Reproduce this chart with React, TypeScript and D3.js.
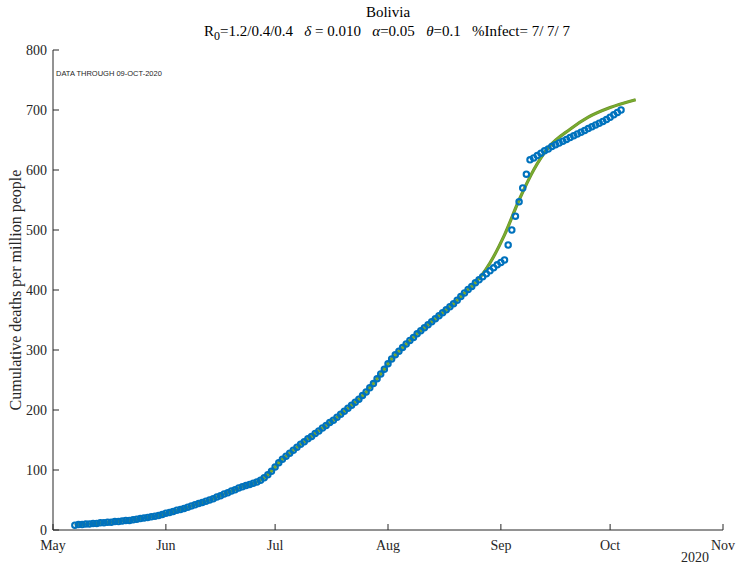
import * as d3 from 'd3'

const startDate = new Date(2020, 4, 7)
const deaths = [
  // May 7-31
  8, 9, 9, 10, 10, 11, 11, 12, 12, 13, 13, 14, 14, 15, 16, 16, 17, 18, 19, 20, 21, 22, 23, 24, 26,
  // Jun
  28, 29, 31, 33, 34, 36, 38, 40, 42, 44, 46, 48, 50, 52, 55, 57, 60, 62, 65, 67, 70, 72, 74, 76, 78, 80, 83, 87, 92,
  // Jul
  98, 105, 112, 118, 123, 128, 133, 138, 143, 147, 152, 156, 161, 165, 170, 174, 179, 183, 188, 193, 198, 203, 208, 213, 218, 224, 230, 237, 244, 252, 260,
  // Aug
  268, 277, 285, 292, 298, 304, 310, 316, 321, 327, 332, 337, 342, 347, 352, 357, 362, 367, 372, 377, 383, 389, 395, 401, 406, 412, 417, 422, 427, 432, 437,
  // Sep
  442, 446, 450, 475, 500, 523, 547, 570, 593, 617, 620, 624, 628, 632, 635, 639, 642, 645, 648, 651, 654, 657, 660, 663, 666, 669, 672, 675, 678, 681,
  // Oct 1-5
  684, 688, 692, 696, 700,
]

// model follows the data until 24 Aug, then its own path
const modelFitDays = 110
const modelTailDates = ['2020-08-29', '2020-09-02', '2020-09-06', '2020-09-10', '2020-09-14', '2020-09-20', '2020-09-25', '2020-10-01', '2020-10-08']
const modelTailValues = [445, 492, 550, 600, 637, 668, 688, 704, 717]

const monthTicks = ['May', 'Jun', 'Jul', 'Aug', 'Sep', 'Oct', 'Nov']
const yTicks = [0, 100, 200, 300, 400, 500, 600, 700, 800]

export default function App() {
  const width = 736
  const height = 566
  const x = d3.scaleTime().domain([new Date(2020, 4, 1), new Date(2020, 10, 1)]).range([53, 723])
  const y = d3.scaleLinear().domain([0, 800]).range([530, 50])
  const parse = d3.timeParse('%Y-%m-%d')
  const points = deaths.map((v, i) => ({ date: d3.timeDay.offset(startDate, i), value: v }))
  const model = [
    ...points.slice(0, modelFitDays),
    ...modelTailDates.map((d, i) => ({ date: parse(d) as Date, value: modelTailValues[i] })),
  ]
  const line = d3
    .line<{ date: Date; value: number }>()
    .x((p) => x(p.date))
    .y((p) => y(p.value))
    .curve(d3.curveMonotoneX)
  const serif = 'Liberation Serif, Times New Roman, serif'

  return (
    <svg width={width} height={height} style={{ position: 'absolute', left: 0, top: 0 }} fontFamily={serif}>
      <rect width={width} height={height} fill="white" />
      <text x={388} y={17} textAnchor="middle" fontSize="15">Bolivia</text>
      <text x={387} y={36} textAnchor="middle" fontSize="15" style={{ whiteSpace: 'pre' }}>
        R<tspan fontSize="12" dy="4">0</tspan><tspan dy="-4">=1.2/0.4/0.4   </tspan>
        <tspan fontStyle="italic">δ</tspan> = 0.010   <tspan fontStyle="italic">α</tspan>=0.05   <tspan fontStyle="italic">θ</tspan>=0.1   %Infect= 7/ 7/ 7
      </text>

      <line x1={53} x2={723} y1={530} y2={530} stroke="#262626" />
      <line x1={53} x2={53} y1={50} y2={530} stroke="#262626" />
      {yTicks.map((t) => (
        <g key={t}>
          <line x1={53} x2={59} y1={y(t)} y2={y(t)} stroke="#262626" />
          <text x={47} y={y(t) + 5} textAnchor="end" fontSize="14" fill="#262626">{t}</text>
        </g>
      ))}
      {monthTicks.map((m, i) => {
        const xx = x(new Date(2020, 4 + i, 1))
        return (
          <g key={m}>
            <line x1={xx} x2={xx} y1={530} y2={524} stroke="#262626" />
            <text x={xx} y={550} textAnchor="middle" fontSize="14" fill="#262626">{m}</text>
          </g>
        )
      })}
      <text x={709} y={566} textAnchor="end" fontSize="14" fill="#262626" dy="-4">2020</text>
      <text transform="translate(21,290) rotate(-90)" textAnchor="middle" fontSize="16" fill="#262626">
        Cumulative deaths per million people
      </text>
      <text x={56} y={76} fontSize="7.5" fontFamily="Liberation Sans, Arial, sans-serif" fill="#262626">DATA THROUGH 09-OCT-2020</text>

      <path d={line(model) ?? ''} fill="none" stroke="#6f8f2a" strokeWidth="3.2" />
      <path d={line(model) ?? ''} fill="none" stroke="#77ac30" strokeWidth="2" />
      {points.map((p, i) => (
        <circle key={i} cx={x(p.date)} cy={y(p.value)} r="2.7" fill="none" stroke="#0072bd" strokeWidth="2.1" />
      ))}
    </svg>
  )
}
